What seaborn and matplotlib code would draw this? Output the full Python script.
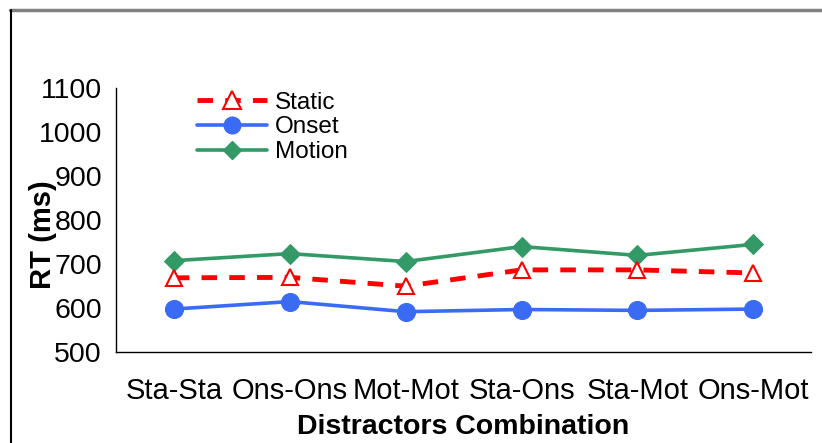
import matplotlib
matplotlib.use("Agg")
import matplotlib.pyplot as plt
import seaborn as sns
import pandas as pd
import numpy as np
from matplotlib.lines import Line2D

# 数据
categories = ["Sta-Sta", "Ons-Ons", "Mot-Mot", "Sta-Ons", "Sta-Mot", "Ons-Mot"]
static_rt = [669, 670, 650, 687, 687, 680]
onset_rt = [598, 615, 592, 597, 595, 598]
motion_rt = [708, 724, 706, 740, 720, 745]

sns.set_theme(style="white")
plt.rcParams['font.family'] = ['Liberation Sans', 'DejaVu Sans']
plt.rcParams['text.color'] = 'black'
plt.rcParams['xtick.color'] = 'black'
plt.rcParams['ytick.color'] = 'black'
plt.rcParams['axes.labelcolor'] = 'black'

fig = plt.figure(figsize=(8.22, 4.43), dpi=100)
ax = fig.add_axes([0.141, 0.205, 0.846, 0.596])

x = np.arange(len(categories))
df = pd.DataFrame({"x": np.tile(x, 3),
                   "rt": static_rt + onset_rt + motion_rt,
                   "cond": ["Static"] * 6 + ["Onset"] * 6 + ["Motion"] * 6})

red, blue, green = "#FF0000", "#3A6BF5", "#339966"
dash = (0, (3.2, 2.5))

sns.lineplot(data=df[df.cond == "Motion"], x="x", y="rt", ax=ax, color=green,
             lw=2.6, marker="D", markersize=10, markeredgecolor=green)
sns.lineplot(data=df[df.cond == "Onset"], x="x", y="rt", ax=ax, color=blue,
             lw=2.6, marker="o", markersize=13, markeredgecolor=blue)
sns.lineplot(data=df[df.cond == "Static"], x="x", y="rt", ax=ax, color=red,
             lw=3.5, marker="^", markersize=12, markerfacecolor="white",
             markeredgecolor=red, markeredgewidth=1.5, linestyle=dash)

ax.set_xlim(-0.5, 5.5)
ax.set_ylim(500, 1100)
ax.set_yticks(range(500, 1101, 100))
ax.set_xticks(x)
ax.set_xticklabels(categories, fontsize=21)
ax.set_xticks(np.arange(-0.5, 6, 1), minor=True)
ax.tick_params(axis="x", which="major", length=0, pad=18)
ax.tick_params(axis="x", which="minor", length=7, width=1, color="black", direction="out")
ax.tick_params(axis="y", length=7, width=1, color="black", direction="out", labelsize=20.5, pad=3)
for s in ["top", "right"]:
    ax.spines[s].set_visible(False)
for s in ["left", "bottom"]:
    ax.spines[s].set_color("black")
    ax.spines[s].set_linewidth(1)

ax.set_xlabel("Distractors Combination", fontsize=20.5, weight="bold", labelpad=6)
ax.set_ylabel("")
fig.text(0.052, 0.47, "RT (ms)", rotation=90, fontsize=21, weight="bold",
         ha="center", va="center")

handles = [
    Line2D([], [], color=red, lw=3.5, linestyle=dash, marker="^",
           markersize=13, markerfacecolor="white", markeredgecolor=red, markeredgewidth=1.5),
    Line2D([], [], color=blue, lw=2.6, marker="o", markersize=12),
    Line2D([], [], color=green, lw=2.6, marker="D", markersize=9),
]
ax.legend(handles, ["Static", "Onset", "Motion"], loc="upper left",
          bbox_to_anchor=(0.085, 1.07), frameon=False, fontsize=17.5,
          handlelength=2.9, handletextpad=0.3, labelspacing=0.12)

# 外框
fig.add_artist(Line2D([0.012, 1.0], [0.977, 0.977], color="#808080", lw=2.5,
                      transform=fig.transFigure))
fig.add_artist(Line2D([0.013, 0.013], [0.0, 0.977], color="black", lw=1.5,
                      transform=fig.transFigure))

fig.savefig("out.png", dpi=100)
